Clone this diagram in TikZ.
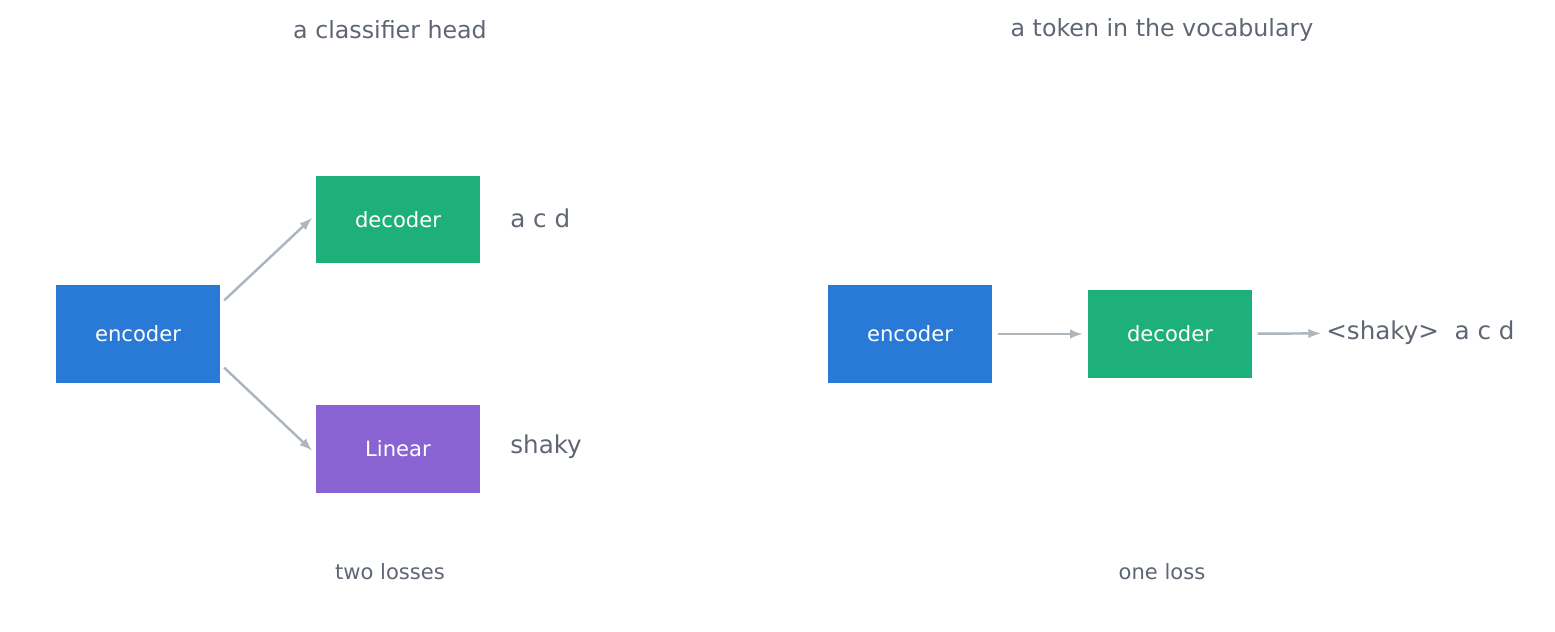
\documentclass[tikz,border=0pt]{standalone}
\usepackage{fontspec}
\setmainfont{DejaVu Sans}
\usetikzlibrary{positioning}
\definecolor{encblue}{HTML}{2979D6}
\definecolor{decgreen}{HTML}{1DB07A}
\definecolor{linpurple}{HTML}{8A63D2}
\definecolor{txtgray}{HTML}{5F6673}
\definecolor{arrgray}{HTML}{ADB5BD}
\tikzset{>=latex}
\begin{document}
\begin{tikzpicture}[x=0.02cm,y=-0.02cm,
  box/.style={draw=none,text=white,minimum width=3.28cm,font=\fontsize{12}{14}\selectfont},
  lbl/.style={text=txtgray,font=\fontsize{14}{16}\selectfont,anchor=west,inner sep=0pt},
  ttl/.style={text=txtgray,font=\fontsize{13.5}{16}\selectfont},
  note/.style={text=txtgray,font=\fontsize{12}{14}\selectfont},
  arr/.style={->,line width=1.4pt,draw=arrgray,shorten <=3pt,shorten >=3pt}]
  \useasboundingbox (0,0) rectangle (1555,632);

  % left panel
  \node[ttl] (titleL) at (390,30) {a classifier head};
  \node[box,fill=encblue,minimum height=1.96cm] (encL) at (138,334) {encoder};
  \node[box,fill=decgreen,minimum height=1.74cm] (decL) at (398,219.5) {decoder};
  \node[box,fill=linpurple,minimum height=1.76cm] (linL) at (398,449) {Linear};
  \node[lbl] (outA) at (510,218) {a c d};
  \node[lbl] (outB) at (510,447) {shaky};
  \node[note] (noteL) at (390,572) {two losses};
  \draw[arr] ([yshift=0.6cm]encL.east) -- ([yshift=0.1cm]decL.west);
  \draw[arr] ([yshift=-0.6cm]encL.east) -- ([yshift=-0.1cm]linL.west);

  % right panel
  \node[ttl] (titleR) at (1162,30) {a token in the vocabulary};
  \node[box,fill=encblue,minimum height=1.96cm] (encR) at (910,334) {encoder};
  \node[box,fill=decgreen,minimum height=1.76cm] (decR) at (1170,334) {decoder};
  \node[lbl] (outR) at (1326,333) {<shaky>\ \ a c d};
  \node[note] (noteR) at (1162,572) {one loss};
  \draw[arr] (encR) -- (decR);
  \draw[arr] (decR) -- (outR);
\end{tikzpicture}
\end{document}
